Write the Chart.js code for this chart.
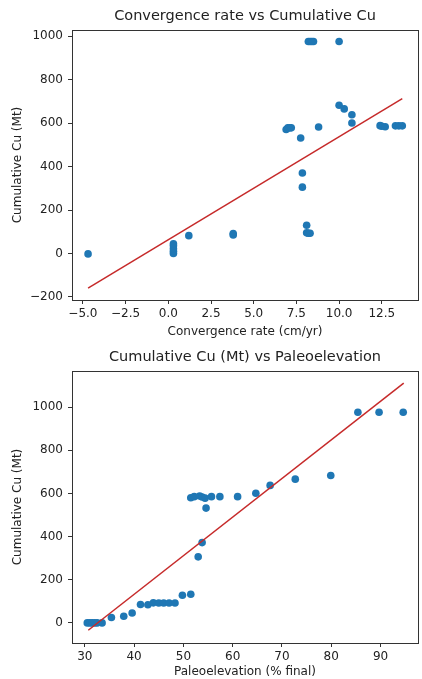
<!DOCTYPE html>
<html>
<head>
<meta charset="utf-8">
<script src="https://cdn.jsdelivr.net/npm/chart.js@4/dist/chart.umd.min.js"></script>
<style>
  html, body { margin: 0; padding: 0; background: #fff; }
  body { width: 422px; height: 679px; position: relative; overflow: hidden; }
  .box { position: absolute; left: 0; width: 422px; }
  #b1 { top: 0; height: 340px; }
  #b2 { top: 340px; height: 339px; }
</style>
</head>
<body>
<div class="box" id="b1"><canvas id="c1"></canvas></div>
<div class="box" id="b2"><canvas id="c2"></canvas></div>
<script>
// ---- Chart 1: Convergence rate vs Cumulative Cu ----
const convRate = [-4.7, 0.3, 0.3, 0.3, 0.3, 0.3, 1.2, 3.8, 3.8,
  6.9, 7.0, 7.1, 7.2, 7.75, 7.85, 7.85, 8.1, 8.1, 8.2, 8.3,
  8.2, 8.3, 8.4, 8.5, 8.8, 10.0, 10.0, 10.3, 10.75, 10.75,
  12.4, 12.5, 12.7, 13.3, 13.5, 13.7];
const cuTop = [-2, 0, 10, 22, 35, 45, 82, 92, 85,
  570, 578, 578, 578, 531, 370, 305, 130, 95, 93, 93,
  975, 975, 975, 975, 582, 975, 682, 665, 638, 600,
  588, 585, 583, 587, 587, 587];
const fitTopX = [-4.7, 13.7];
const fitTopY = [-159, 712];
const xTicksTop = [-5, -2.5, 0, 2.5, 5, 7.5, 10, 12.5];
const yTicksTop = [-200, 0, 200, 400, 600, 800, 1000];

// ---- Chart 2: Cumulative Cu (Mt) vs Paleoelevation ----
const paleo = [30.5, 31, 31.5, 32, 32.5, 33.5, 35.4, 37.9, 39.6,
  41.3, 42.8, 43.9, 45, 46, 47.1, 48.3, 49.8, 51.5,
  53, 53.8, 54.6, 51.5, 52.2, 53.3, 53.8, 54.4, 55.7, 57.4,
  61, 64.7, 67.6, 72.7, 79.9, 85.4, 89.7, 94.6];
const cuBottom = [0, 0, 0, 0, 0, 0, 25, 31, 46,
  85, 84, 93, 92, 92, 92, 92, 128, 133,
  306, 372, 532, 580, 585, 588, 583, 578, 585, 585,
  585, 601, 637, 666, 683, 976, 976, 976];
const fitBotX = [30.7, 94.7];
const fitBotY = [-34, 1111];
const xTicksBot = [30, 40, 50, 60, 70, 80, 90];
const yTicksBot = [0, 200, 400, 600, 800, 1000];

const FONT = "'DejaVu Sans', sans-serif";
const DOT = '#1f77b4';
const FIT = '#c62a2a';
const INK = '#222';

function fmt(v, dec) {
  const s = Math.abs(v).toFixed(dec);
  return v < 0 ? '\u2212' + s : s;
}

const framePlugin = {
  id: 'frame',
  afterDraw(chart) {
    const a = chart.chartArea, ctx = chart.ctx;
    ctx.save();
    ctx.strokeStyle = '#333';
    ctx.lineWidth = 1;
    ctx.strokeRect(Math.round(a.left) + 0.5, Math.round(a.top) + 0.5,
      Math.round(a.right - a.left), Math.round(a.bottom - a.top));
    ctx.restore();
  }
};

function makeChart(id, cfg) {
  const pts = cfg.xs.map((x, i) => ({ x: x, y: cfg.ys[i] }));
  const fit = cfg.fx.map((x, i) => ({ x: x, y: cfg.fy[i] }));
  return new Chart(document.getElementById(id), {
    type: 'scatter',
    data: {
      datasets: [
        { data: pts, backgroundColor: DOT, borderWidth: 0, pointRadius: 3.8, order: 2 },
        { type: 'line', data: fit, borderColor: FIT, borderWidth: 1.5, pointRadius: 0,
          showLine: true, fill: false, order: 1 }
      ]
    },
    options: {
      responsive: true,
      maintainAspectRatio: false,
      animation: false,
      events: [],
      layout: { padding: { left: 0, right: 1, top: 0, bottom: 0 } },
      plugins: {
        legend: { display: false },
        tooltip: { enabled: false },
        title: {
          display: true, text: cfg.title, color: INK, fullSize: false,
          font: { family: FONT, size: 14.5, weight: 'normal', lineHeight: 1.2 },
          padding: { top: cfg.titleTop, bottom: cfg.titleBottom }
        }
      },
      scales: {
        x: {
          type: 'linear', min: cfg.xmin, max: cfg.xmax,
          afterBuildTicks: s => { s.ticks = cfg.xt.map(v => ({ value: v })); },
          afterFit: s => { s.height = cfg.xh; },
          grid: { display: true, drawOnChartArea: false, drawTicks: true, tickLength: 4, color: '#333' },
          border: { display: true, color: '#333', width: 1 },
          ticks: { color: INK, font: { family: FONT, size: 12 }, padding: 3, maxRotation: 0, autoSkip: false,
                   callback: v => fmt(v, cfg.xdec) },
          title: { display: true, text: cfg.xlabel, color: INK, font: { family: FONT, size: 12 },
                   padding: { top: 2, bottom: cfg.xtb } }
        },
        y: {
          type: 'linear', min: cfg.ymin, max: cfg.ymax,
          afterBuildTicks: s => { s.ticks = cfg.yt.map(v => ({ value: v })); },
          afterFit: s => { s.width = 72; },
          grid: { display: true, drawOnChartArea: false, drawTicks: true, tickLength: 4, color: '#333' },
          border: { display: true, color: '#333', width: 1 },
          ticks: { color: INK, font: { family: FONT, size: 12 }, padding: 5, autoSkip: false,
                   callback: v => fmt(v, 0) },
          title: { display: true, text: 'Cumulative Cu (Mt)', color: INK, font: { family: FONT, size: 12 },
                   padding: { top: 11, bottom: 0 } }
        }
      }
    },
    plugins: [framePlugin]
  });
}

makeChart('c1', {
  title: 'Convergence rate vs Cumulative Cu', titleTop: 8, titleBottom: 4.6,
  xs: convRate, ys: cuTop, fx: fitTopX, fy: fitTopY,
  xmin: -5.64, xmax: 14.62, ymin: -214, ymax: 1028,
  xt: xTicksTop, yt: yTicksTop, xdec: 1, xh: 40, xtb: 1,
  xlabel: 'Convergence rate (cm/yr)'
});

makeChart('c2', {
  title: 'Cumulative Cu (Mt) vs Paleoelevation', titleTop: 9, titleBottom: 4.6,
  xs: paleo, ys: cuBottom, fx: fitBotX, fy: fitBotY,
  xmin: 27.4, xmax: 97.6, ymin: -93, ymax: 1167,
  xt: xTicksBot, yt: yTicksBot, xdec: 0, xh: 36, xtb: 0,
  xlabel: 'Paleoelevation (% final)'
});
</script>
</body>
</html>
